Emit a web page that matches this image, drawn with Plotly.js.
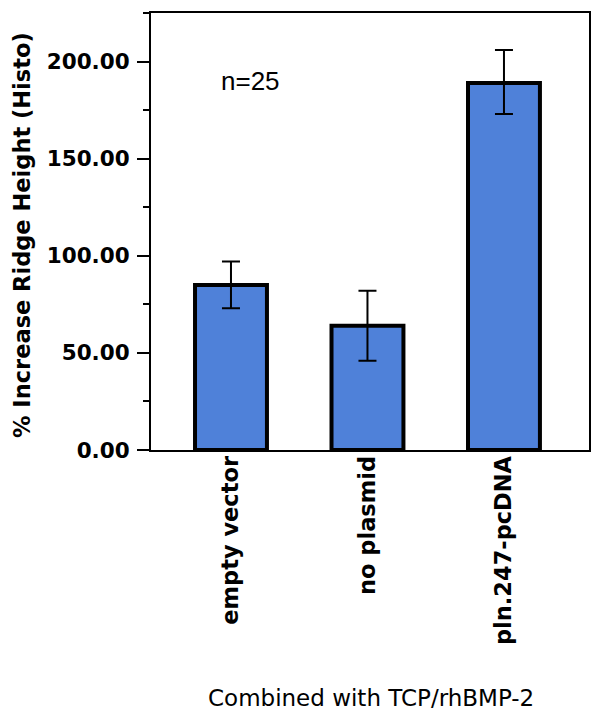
<!DOCTYPE html>
<html>
<head>
<meta charset="utf-8">
<script src="https://cdn.plot.ly/plotly-3.0.1.min.js"></script>
<style>html,body{margin:0;padding:0;background:#fff;}#chart{width:600px;height:720px;}</style>
</head>
<body>
<div id="chart"></div>
<script>
const categories = ["empty vector", "no plasmid", "pln.247-pcDNA"];
const meanValues = [85, 64, 189];
const errorPlus = [12, 18, 17];
const errorMinus = [12, 18, 16];
const yTickValues = [0, 50, 100, 150, 200];
const yTickLabels = ["0.00", "50.00", "100.00", "150.00", "200.00"];

const font = "DejaVu Sans, Verdana, sans-serif";

const trace = {
  type: "bar",
  x: categories,
  y: meanValues,
  width: 0.527,
  marker: { color: "#4F81D9", line: { color: "#000", width: 4 } },
  error_y: {
    type: "data", array: errorPlus, arrayminus: errorMinus, symmetric: false,
    color: "#000", thickness: 2, width: 9
  },
  hoverinfo: "none"
};

const layout = {
  width: 600, height: 720,
  margin: { l: 151, r: 11, t: 13, b: 270 },
  paper_bgcolor: "#fff", plot_bgcolor: "#fff",
  showlegend: false,
  font: { family: font, color: "#000" },
  xaxis: {
    type: "category",
    range: [-0.586, 2.623],
    showline: true, linecolor: "#000", linewidth: 2, mirror: true,
    ticks: "", tickangle: -90, ticklabelstandoff: -5,
    tickfont: { family: font, size: 22.5, weight: "bold", color: "#000" },
    showgrid: false, zeroline: false, fixedrange: true
  },
  yaxis: {
    range: [0, 225],
    showline: true, linecolor: "#000", linewidth: 2, mirror: true,
    tickmode: "array", tickvals: yTickValues, ticktext: yTickLabels,
    ticks: "outside", ticklen: 12, tickwidth: 2, tickcolor: "#000",
    ticklabelstandoff: 3,
    minor: { tickmode: "linear", tick0: 25, dtick: 50, ticks: "outside", ticklen: 6, tickwidth: 2, tickcolor: "#000", showgrid: false },
    tickfont: { family: font, size: 21.5, weight: "bold", color: "#000" },
    showgrid: false, zeroline: false, fixedrange: true
  },
  annotations: [
    { text: "% Increase Ridge Height (Histo)", xref: "paper", yref: "paper",
      x: -0.2945, y: 0.492, textangle: -90, showarrow: false,
      xanchor: "center", yanchor: "middle",
      font: { family: font, size: 22.5, weight: "bold", color: "#000" } },
    { text: "Combined with TCP/rhBMP-2", xref: "paper", yref: "paper",
      x: 0.502, y: -0.5675, showarrow: false, xanchor: "center", yanchor: "middle",
      font: { family: font, size: 23, color: "#000" } },
    { text: "n=25", xref: "paper", yref: "paper",
      x: (250 - 151) / 438, y: (450 - 81) / 437, showarrow: false,
      xanchor: "center", yanchor: "middle",
      font: { family: "Liberation Sans Narrow, Liberation Sans, sans-serif", size: 26, color: "#000" } }
  ]
};

Plotly.newPlot("chart", [trace], layout, { displayModeBar: false, staticPlot: true });
</script>
</body>
</html>
